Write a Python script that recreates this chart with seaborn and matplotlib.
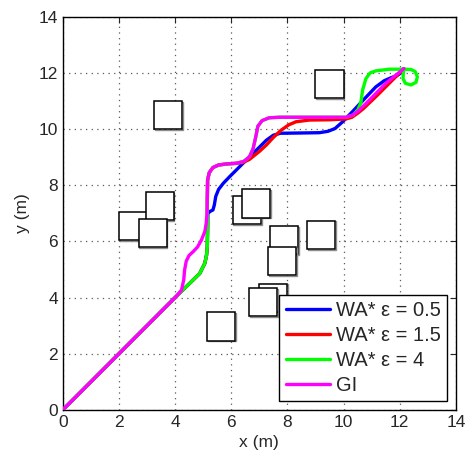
import numpy as np
import pandas as pd
import matplotlib
matplotlib.use('Agg')
import matplotlib.pyplot as plt
import seaborn as sns
from matplotlib.patches import Rectangle

# obstacle squares (lower-left corners, metres), back ones first
obs_x = [3.25, 9.0, 2.0, 2.95, 2.7, 6.05, 6.37, 7.38, 7.3, 8.7, 7.0, 6.63, 5.15]
obs_y = [10.0, 11.1, 6.05, 6.75, 5.8, 6.62, 6.85, 5.56, 4.8, 5.74, 3.5, 3.33, 2.47]
obs_side = 1.0

# shared start of the paths
start_x = [0.0, 4.05]
start_y = [0.0, 4.05]

# green (WA* eps = 4)
green_x = start_x + [4.4, 4.88, 5.06, 5.12, 5.15, 5.16, 5.15, 5.15, 5.16, 5.22, 5.35, 5.55, 5.85,
                     6.18, 6.45, 6.65, 6.78, 6.87, 6.95, 7.1, 7.35, 7.72, 8.5, 9.5, 10.1, 10.35,
                     10.52, 10.62, 10.68, 10.8, 10.95, 11.15, 11.63, 12.16, 12.4, 12.55, 12.63,
                     12.58, 12.4, 12.2, 12.12, 12.13, 12.15]
green_y = start_y + [4.39, 4.86, 5.22, 5.5, 5.81, 6.52, 7.06, 7.5, 8.19, 8.45, 8.63, 8.72, 8.76,
                     8.78, 8.85, 9.01, 9.3, 9.7, 10.1, 10.3, 10.4, 10.42, 10.42, 10.42, 10.42, 10.5,
                     10.7, 10.95, 11.39, 11.8, 12.0, 12.07, 12.13, 12.13, 12.12, 12.05, 11.86,
                     11.66, 11.57, 11.63, 11.8, 12.0, 12.13]

# blue (WA* eps = 0.5)
blue_x = start_x + [4.4, 4.88, 5.06, 5.12, 5.15, 5.16, 5.17, 5.25, 5.35, 5.4, 5.45, 5.55, 5.72,
                    5.94, 6.3, 6.65, 7.0, 7.25, 7.5, 7.75, 8.5, 9.14, 9.45, 9.7, 9.97, 10.32,
                    10.75, 11.15, 11.45, 11.7, 11.9, 12.05, 12.15]
blue_y = start_y + [4.39, 4.86, 5.22, 5.5, 5.81, 6.52, 7.0, 7.07, 7.12, 7.3, 7.6, 7.85, 8.07,
                    8.3, 8.66, 9.01, 9.35, 9.6, 9.78, 9.85, 9.86, 9.87, 9.92, 10.02, 10.26, 10.62,
                    11.08, 11.5, 11.72, 11.83, 11.9, 12.0, 12.15]

# red (WA* eps = 1.5)
red_x = start_x + [4.4, 4.88, 5.06, 5.12, 5.15, 5.16, 5.15, 5.15, 5.16, 5.22, 5.35, 5.55, 5.85,
                   6.18, 6.4, 6.65, 7.0, 7.25, 7.5, 7.78, 8.05, 8.31, 8.78, 9.5, 10.09, 10.3,
                   10.5, 10.7, 11.2, 11.7, 12.15]
red_y = start_y + [4.39, 4.86, 5.22, 5.5, 5.81, 6.52, 7.06, 7.5, 8.19, 8.45, 8.63, 8.72, 8.76,
                   8.78, 8.8, 8.92, 9.2, 9.43, 9.7, 9.96, 10.15, 10.26, 10.32, 10.33, 10.36, 10.42,
                   10.56, 10.72, 11.2, 11.7, 12.15]

# magenta (GI)
gi_x = start_x + [4.23, 4.31, 4.34, 4.4, 4.5, 4.64, 4.8, 4.94, 5.06, 5.11, 5.14, 5.15, 5.16,
                  5.22, 5.35, 5.55, 5.85, 6.18, 6.45, 6.65, 6.78, 6.87, 6.95, 7.1, 7.35, 7.72,
                  8.5, 9.5, 10.09, 10.3, 10.5, 10.8, 11.51, 12.15]
gi_y = start_y + [4.27, 4.63, 4.98, 5.3, 5.5, 5.63, 5.8, 6.05, 6.35, 6.64, 7.0, 7.6, 8.19,
                  8.45, 8.63, 8.72, 8.76, 8.78, 8.85, 9.01, 9.3, 9.7, 10.1, 10.3, 10.4, 10.42,
                  10.42, 10.42, 10.42, 10.48, 10.62, 10.91, 11.63, 12.15]

labels = ['WA* ε = 0.5', 'WA* ε = 1.5', 'WA* ε = 4', 'GI']
colors = ['#0000ff', '#ff0000', '#00ff00', '#ff00ff']
paths = [(blue_x, blue_y), (red_x, red_y), (green_x, green_y), (gi_x, gi_y)]

sns.set_style('white')
plt.rcParams['font.family'] = ['Liberation Sans', 'DejaVu Sans']

fig = plt.figure(figsize=(4.68, 4.63), dpi=100)
ax = fig.add_axes([0.134, 0.1145, 0.84, 0.8495])

for x0, y0 in zip(obs_x, obs_y):
    ax.add_patch(Rectangle((x0 + 0.03, y0 - 0.03), obs_side, obs_side, facecolor='none',
                           edgecolor='0.55', lw=1.0, zorder=2))
    ax.add_patch(Rectangle((x0, y0), obs_side, obs_side, facecolor='white',
                           edgecolor='black', lw=1.1, zorder=2))

for (px, py), lab, col in zip(paths, labels, colors):
    df = pd.DataFrame({'x': px, 'y': py})
    sns.lineplot(data=df, x='x', y='y', sort=False, estimator=None, color=col,
                 lw=2.4, label=lab, ax=ax, zorder=3)

ax.set_xlim(0, 14)
ax.set_ylim(0, 14)
ax.set_xticks(range(0, 15, 2))
ax.set_yticks(range(0, 15, 2))
ax.grid(True, linestyle=(0, (1, 3.5)), color='0.35', lw=0.9)
ax.tick_params(direction='in', top=True, right=True, length=4, labelsize=12.5, width=0.8)
for s in ax.spines.values():
    s.set_color('black')
    s.set_linewidth(1.0)
ax.set_xlabel('x (m)', fontsize=12.5, labelpad=4)
ax.set_ylabel('y (m)', fontsize=12.5, labelpad=6)

leg = ax.legend(loc='lower right', fontsize=14.5, frameon=True, fancybox=False,
                edgecolor='black', framealpha=1, handlelength=2.2, borderaxespad=0.45,
                handletextpad=0.3, labelspacing=0.3, borderpad=0.3)
leg.get_frame().set_linewidth(1.0)
leg.set_zorder(5)

fig.savefig('out.png', dpi=100)
